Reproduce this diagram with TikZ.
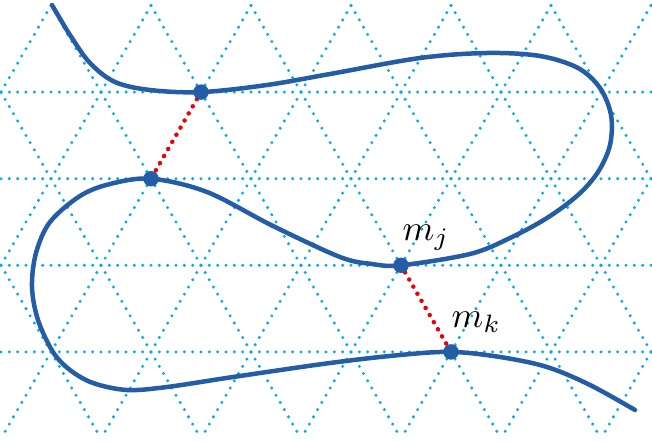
\documentclass[tikz,border=0pt]{standalone}
\definecolor{latt}{RGB}{0,172,240}
\definecolor{curveblue}{RGB}{36,92,166}
\definecolor{reddot}{RGB}{240,0,0}
\tikzset{
  lattline/.style={latt, line width=3.3pt, line cap=round, dash pattern=on 0pt off 8.3333pt},
  reddots/.style={reddot, line width=4.5pt, line cap=round, dash pattern=on 0pt off 8.2pt},
  curveline/.style={curveblue, line width=4.5pt, line cap=round, line join=round},
  marker/.style={circle, fill=curveblue, inner sep=0pt, minimum size=15.5pt},
  lbl/.style={scale=3.6, inner sep=0pt, anchor=base west}
}
\begin{document}
\begin{tikzpicture}[x=1pt,y=-1pt]
\useasboundingbox (0,0) rectangle (652,441);
\begin{scope}
\clip (0,0) rectangle (652,441);
\foreach \i in {-3,...,9} {
  \draw[lattline] (51+100*\i,5.5) -- ++(250,433);
  \draw[lattline] (51+100*\i,5.5) -- ++(-250,433);
}
\foreach \yy/\xx in {92.1/1, 178.7/51, 265.3/1, 351.9/51} {
  \draw[lattline] (\xx-100,\yy) -- (\xx+800,\yy);
}
\end{scope}
\coordinate (p1) at (201,92.1);
\coordinate (p2) at (151,178.7);
\coordinate (mj) at (401,265.3);
\coordinate (mk) at (451,351.9);
\draw[reddots] (p1) -- (p2);
\draw[reddots] (mj) -- (mk);
\draw[curveline] plot[smooth, tension=0.55] coordinates {
(52,5) (70,35) (90,63) (115,82) (150,90) (p1) (267,85) (330,74) (420,58) (487,53) (540,56) (578,68) (600,88) (611,115) (610,145) (598,172) (578,195) (547,218) (510,238) (470,254) (mj) (372,264) (340,257) (273,226) (207,192) (p2) (110,184) (80,196) (50,222) (36,253) (32,287) (38,320) (53,352) (70,370) (93,383) (127,390) (167,387) (233,377) (330,363) (400,355) (mk) (500,357) (547,367) (590,385) (635,410)};
\node[marker] (n1) at (p1) {};
\node[marker] (n2) at (p2) {};
\node[marker] (n3) at (mj) {};
\node[marker] (n4) at (mk) {};
\node[lbl] (lj) at (402,240) {$m_j$};
\node[lbl] (lk) at (451,327) {$m_k$};
\end{tikzpicture}
\end{document}
